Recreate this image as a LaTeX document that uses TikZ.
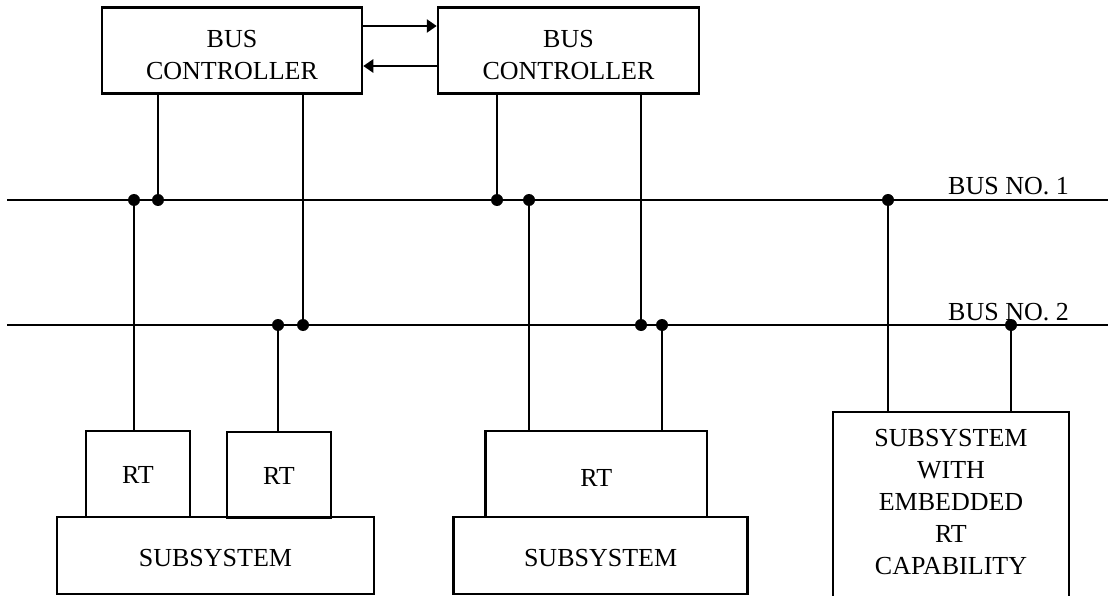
\documentclass[tikz,border=0pt]{standalone}
\usepackage{fontspec}
\setmainfont{Liberation Serif}
\usetikzlibrary{arrows.meta}
\begin{document}
\begin{tikzpicture}[x=1pt,y=-1pt,
  box/.style={draw, line width=2.5pt, inner sep=0pt},
  txt/.style={inner sep=0pt, font=\fontsize{26}{31.8}\selectfont, align=center},
  dot/.style={circle, fill=black, inner sep=0pt, minimum size=12pt},
  wire/.style={line width=2.5pt},
  arr/.style={line width=2.5pt, -{Triangle[length=10pt,width=13pt]}}]
\useasboundingbox (0,0) rectangle (1108,596);
\clip (0,0) rectangle (1108,596);

% bus controllers
\node[box, minimum width=260pt, minimum height=86pt] (bc1) at (232,50.3) {};
\node[box, minimum width=261pt, minimum height=86pt] (bc2) at (568.5,50.3) {};
\node[txt] (bc1t) at (232,55) {BUS\\CONTROLLER};
\node[txt] (bc2t) at (568.5,55) {BUS\\CONTROLLER};
\draw[arr] ([yshift=24.3pt]bc1.east) -- ([yshift=24.3pt]bc2.west);
\draw[arr] ([yshift=-15.7pt]bc2.west) -- ([yshift=-15.7pt]bc1.east);

% subsystems
\node[box, minimum width=317pt, minimum height=77pt] (sub1) at (215.5,555.5) {};
\node[box, minimum width=294pt, minimum height=77pt] (sub2) at (600.6,555.5) {};
\node[box, minimum width=236pt, minimum height=200pt] (sub3) at (951,512) {};
\node[txt, anchor=base] (sub1t) at (215.5,566.7) {SUBSYSTEM};
\node[txt, anchor=base] (sub2t) at (600.6,566.7) {SUBSYSTEM};
\node[txt] (sub3t) at (951,502) {SUBSYSTEM\\WITH\\EMBEDDED\\RT\\CAPABILITY};

% remote terminals
\node[box, minimum width=104pt, minimum height=86pt] (rt1) at (138,474) {};
\node[box, minimum width=104pt, minimum height=86pt] (rt2) at (279,475) {};
\node[box, minimum width=221.5pt, minimum height=86pt] (rt3) at (596.3,474) {};
\node[txt, anchor=base] (rt1t) at (138,483) {RT};
\node[txt, anchor=base] (rt2t) at (279,484) {RT};
\node[txt, anchor=base] (rt3t) at (596.3,486) {RT};

% buses
\coordinate (b1l) at (7,200);
\coordinate (b1r) at (1112,200);
\coordinate (b2l) at (7,325);
\coordinate (b2r) at (1112,325);
\draw[wire] (b1l) -- (b1r);
\draw[wire] (b2l) -- (b2r);
\node[txt, anchor=base west] (lab1) at (948,195) {BUS NO. 1};
\node[txt, anchor=base west] (lab2) at (948,320) {BUS NO. 2};

% junction dots, bus 1
\node[dot] (a1) at (134,200) {};
\node[dot] (a2) at (158,200) {};
\node[dot] (a3) at (497,200) {};
\node[dot] (a4) at (529,200) {};
\node[dot] (a5) at (888,200) {};
% junction dots, bus 2
\node[dot] (c1) at (278,325) {};
\node[dot] (c2) at (303,325) {};
\node[dot] (c3) at (641,325) {};
\node[dot] (c4) at (662,325) {};
\node[dot] (c5) at (1011,325) {};

% controller stubs
\draw[wire] (bc1.south -| a2) -- (a2.center);
\draw[wire] (bc1.south -| c2) -- (c2.center);
\draw[wire] (bc2.south -| a3) -- (a3.center);
\draw[wire] (bc2.south -| c3) -- (c3.center);

% terminal stubs
\draw[wire] (a1.center) -- (rt1.north -| a1);
\draw[wire] (c1.center) -- (rt2.north -| c1);
\draw[wire] (a4.center) -- (rt3.north -| a4);
\draw[wire] (c4.center) -- (rt3.north -| c4);
\draw[wire] (a5.center) -- (sub3.north -| a5);
\draw[wire] (c5.center) -- (sub3.north -| c5);
\end{tikzpicture}
\end{document}
